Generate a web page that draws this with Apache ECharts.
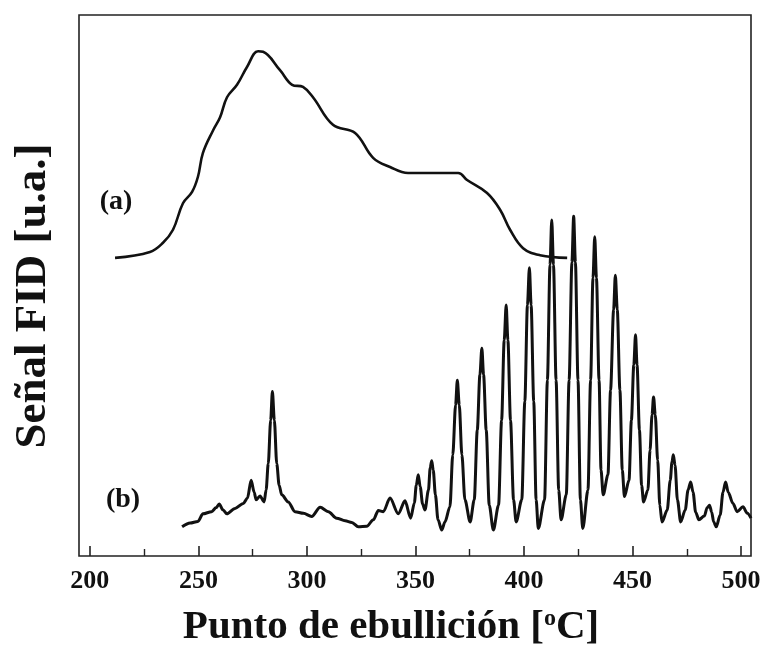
<!DOCTYPE html>
<html>
<head>
<meta charset="utf-8">
<script src="https://cdn.jsdelivr.net/npm/echarts@6/dist/echarts.min.js"></script>
<style>html,body{margin:0;padding:0;background:#fff;}#c{width:765px;height:659px;}</style>
</head>
<body>
<div id="c"></div>
<script>
// Boiling-point axis ticks
const majorTicks = [200, 250, 300, 350, 400, 450, 500];
const minorTicks = [225, 275, 325, 375, 425, 475];

// Curve (a): simulated distillation profile
const tempA = [211.6,227.7,233.7,238.3,242.9,247.1,249.8,252.1,256.8,260.0,263.2,267.8,272.4,277.5,279.8,287.6,293.2,298.2,302.8,312.0,322.2,330.5,338.3,346.6,369.7,373.8,383.0,389.0,393.6,399.6,407.4,419.9];
const signalA = [55.1,56.2,57.9,60.3,65.2,67.3,70.1,74.5,78.7,81.1,84.8,87.1,90.4,93.3,93.2,89.8,87.1,86.7,84.8,79.7,78.2,73.6,71.9,70.8,70.8,69.5,67.1,64.0,60.3,56.9,55.6,55.1];

// Curve (b): FID chromatogram
const tempB = [242.5,246.2,249.8,252.1,256.1,258.1,259.6,261.4,263.1,266.9,270.7,272.6,274.3,275.7,276.6,278.4,280.3,281.2,282.2,283.3,284.1,285.0,286.1,287.2,288.4,291.4,294.5,298.4,302.2,306.1,309.9,313.7,317.6,320.7,323.7,327.6,330.6,332.9,335.2,338.3,342.1,
345.2,347.8,349.5,350.4,351.3,352.2,353.3,354.4,
356.0,356.8,357.5,358.2,359.2,360.4,362.1,363.6,
365.9,367.2,368.5,369.3,370.2,371.4,372.8,375.2,
377.1,378.5,379.7,380.6,381.4,382.6,384.0,385.9,
388.3,389.7,390.9,391.8,392.6,393.8,395.2,396.4,
399.0,400.4,401.6,402.5,403.3,404.5,405.6,406.6,
409.5,410.8,412.0,412.8,413.6,414.8,416.0,417.1,
419.5,420.8,422.1,422.9,423.7,424.9,426.0,427.1,
429.5,430.7,431.8,432.6,433.4,434.6,435.5,436.5,
438.7,439.9,441.3,442.1,443.0,444.2,445.3,446.3,
448.4,449.5,450.6,451.4,452.1,453.2,454.2,455.1,
457.1,458.1,459.0,459.7,460.5,461.6,462.6,463.6,
466.0,467.4,468.2,468.8,469.6,470.7,472.2,
474.3,475.6,476.8,477.9,479.1,480.6,
483.1,484.4,485.5,486.5,487.4,488.6,
490.4,491.7,492.9,494.1,496.3,498.2,500.9,502.9,504.6];
const signalB = [5.4,6.1,6.4,7.8,8.2,8.9,9.6,8.5,7.8,8.8,9.7,10.7,14.0,11.8,10.4,11.1,10.0,12.2,17.1,25.1,30.4,25.1,17.1,13.1,11.3,10.0,8.2,7.9,7.3,9.0,8.2,7.0,6.5,6.2,5.4,5.5,6.7,8.4,8.2,10.7,7.8,
10.2,7.0,9.8,13.1,15.0,12.8,9.6,8.5,
12.2,16.3,17.6,15.9,11.3,6.7,4.8,6.3,
9.1,18.7,27.9,32.5,27.9,18.7,10.4,6.3,
10.4,23.3,33.5,38.4,33.5,23.3,9.4,4.8,
9.4,25.1,39.9,46.4,39.9,25.1,10.4,6.3,
10.4,28.6,46.4,53.3,46.4,28.6,10.4,5.1,
10.4,32.5,53.8,62.1,53.8,32.5,12.2,6.7,
11.3,32.5,54.3,62.8,54.3,32.5,10.4,5.1,
12.2,32.5,51.4,59.0,51.4,32.5,15.9,11.3,
15.0,30.7,45.5,51.9,45.5,30.7,15.9,11.0,
14.0,25.1,35.3,40.9,35.3,23.3,13.1,10.0,
12.2,19.6,26.1,29.4,26.1,17.7,9.4,6.3,
8.5,14.0,17.4,18.7,16.8,10.4,6.3,
8.5,12.2,13.7,11.8,8.1,6.7,
7.4,8.9,9.4,8.1,6.3,5.4,
7.6,11.8,13.7,11.8,9.7,8.2,9.1,7.9,7.0];

const seriesLabels = ['(a)', '(b)'];
const xTitle = 'Punto de ebullición [';
const yTitle = 'Señal FID [u.a.]';

const FONT = '"Liberation Serif", "DejaVu Serif", serif';
const pairs = (xs, ys) => xs.map((x, i) => [x, ys[i]]);

const chart = echarts.init(document.getElementById('c'), null, {renderer: 'canvas'});
chart.setOption({
  animation: false,
  backgroundColor: '#fff',
  grid: {left: 79, right: 14, top: 15, bottom: 103, show: true, borderColor: '#222', borderWidth: 1.6, backgroundColor: 'transparent'},
  xAxis: [{
    type: 'value', min: 195, max: 504.6,
    axisLine: {show: false},
    splitLine: {show: false},
    axisTick: {show: true, inside: true, length: 10, customValues: majorTicks, lineStyle: {color: '#222', width: 1.6}},
    axisLabel: {show: true, customValues: majorTicks, margin: 12, color: '#111', fontFamily: FONT, fontWeight: 'bold', fontSize: 26}
  }, {
    type: 'value', min: 195, max: 504.6, position: 'bottom',
    axisLine: {show: false}, splitLine: {show: false},
    axisTick: {show: true, inside: true, length: 7, customValues: minorTicks, lineStyle: {color: '#222', width: 1.4}},
    axisLabel: {show: false}
  }],
  yAxis: {
    type: 'value', min: 0, max: 100,
    axisLine: {show: false}, axisTick: {show: false}, axisLabel: {show: false}, splitLine: {show: false}
  },
  series: [{
    type: 'line', name: seriesLabels[0], data: pairs(tempA, signalA), showSymbol: false, smooth: 0.4,
    lineStyle: {color: '#111', width: 2.6}
  }, {
    type: 'line', name: seriesLabels[1], data: pairs(tempB, signalB), showSymbol: false, smooth: 0.3, smoothMonotone: 'x',
    lineStyle: {color: '#111', width: 3}
  }],
  graphic: [
    {type: 'text', x: 116, y: 202, style: {text: seriesLabels[0], font: 'bold 28px ' + FONT, fill: '#111', align: 'center', verticalAlign: 'middle'}},
    {type: 'text', x: 123, y: 500, style: {text: seriesLabels[1], font: 'bold 28px ' + FONT, fill: '#111', align: 'center', verticalAlign: 'middle'}},
    {type: 'text', x: 33, y: 296, rotation: Math.PI / 2, style: {text: yTitle, font: 'bold 45px ' + FONT, fill: '#111', align: 'center', verticalAlign: 'middle'}},
    {type: 'text', x: 391, y: 627, style: {
      text: '{m|' + xTitle + '}{s|o}{m|C]}', fill: '#111', align: 'center', verticalAlign: 'middle',
      rich: {m: {font: 'bold 41px ' + FONT, fill: '#111'}, s: {font: 'bold 24px ' + FONT, fill: '#111', verticalAlign: 'top', padding: [0,0,16,0]}}
    }}
  ]
});
</script>
</body>
</html>
